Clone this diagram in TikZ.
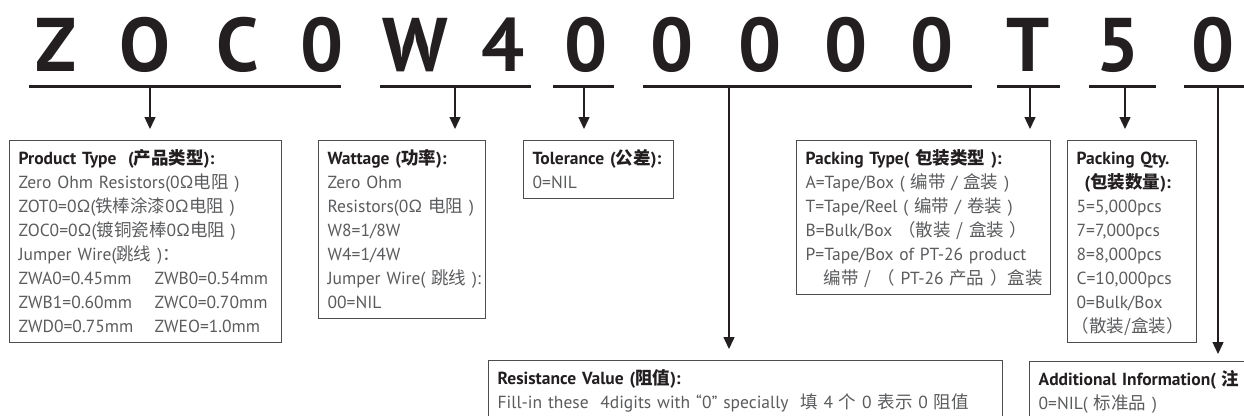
\documentclass[tikz,border=0pt]{standalone}
\usepackage{fontspec}
\setmainfont{PT Sans}
\newfontfamily\cjkfont{Noto Sans CJK SC}
\usetikzlibrary{arrows.meta,positioning}
\definecolor{ink}{HTML}{231F20}
\definecolor{txtgray}{HTML}{5A5B5D}
\definecolor{boxgray}{HTML}{4D4D4F}
\newcommand{\boxhead}[1]{{\bfseries\color{ink}#1}}
\newcommand{\zh}[1]{{\cjkfont #1}}

\begin{document}
\begin{tikzpicture}[x=1pt, y=-1pt, >={Triangle[length=12pt,width=11pt]}]
  \tikzstyle{code}=[font=\fontsize{76}{76}\selectfont\bfseries, text=ink, inner sep=0pt, anchor=base]
  \tikzstyle{uline}=[draw=ink, line width=2.2pt]
  \tikzstyle{stem}=[draw=ink, line width=1.4pt, ->]
  \tikzstyle{infobox}=[draw=boxgray, line width=1.3pt, anchor=north west, align=left, inner xsep=9pt, inner ysep=6pt, text=txtgray, font=\fontsize{17.5}{24}\selectfont, execute at begin node={\rule{0pt}{18pt}}, execute at end node={\rule[-4pt]{0pt}{4pt}}]

  \useasboundingbox (0,0) rectangle (1244,415);
  \clip (0,0) rectangle (1244,415);

  % ------- part number -------
  \foreach \x/\c [count=\i] in {56/Z,145/O,238/C,322/0,415/W,503/4,586/0,672/0,760/0,846/0,932/0,1028/T,1118/5,1213/0}
    \node[code] (c\i) at (\x,71) {\c};

  % underlines of the code groups
  \foreach \a/\b in {29/341,380/531,553/614,643/972,997/1060,1089/1156,1184/1252}
    \draw[uline] (\a,86.5) -- (\b,86.5);

  \coordinate (sProd) at (150,86.5);
  \coordinate (sWatt) at (455,86.5);
  \coordinate (sTol)  at (584,86.5);
  \coordinate (sRes)  at (729,86.5);
  \coordinate (sPack) at (1030,86.5);
  \coordinate (sQty)  at (1125,86.5);
  \coordinate (sAdd)  at (1218,86.5);

  % ------- boxes -------
  \node[infobox, text width=254pt] (prod) at (9,140) {\boxhead{Product Type\ \ (\zh{产品类型}):}\\
    Zero Ohm Resistors(0Ω\zh{电阻} )\\
    ZOT0=0Ω(\zh{铁棒涂漆}0Ω\zh{电阻} )\\
    ZOC0=0Ω(\zh{镀铜瓷棒}0Ω\zh{电阻} )\\
    Jumper Wire(\zh{跳线} )\zh{：}\\
    \makebox[136pt][l]{ZWA0=0.45mm}ZWB0=0.54mm\\
    \makebox[136pt][l]{ZWB1=0.60mm}ZWC0=0.70mm\\
    \makebox[136pt][l]{ZWD0=0.75mm}ZWEO=1.0mm};

  \node[infobox, text width=149pt] (watt) at (318,140) {\boxhead{Wattage (\zh{功率}):}\\
    Zero Ohm\\
    \mbox{Resistors(0Ω \zh{电阻} )}\\
    W8=1/8W\\
    W4=1/4W\\
    \mbox{Jumper Wire( \zh{跳线} ):}\\
    00=NIL};

  \node[infobox, text width=132pt] (tol) at (523,140) {\boxhead{Tolerance (\zh{公差}):}\\
    0=NIL};

  \node[infobox, text width=236pt] (pack) at (796,140) {\boxhead{Packing Type( \zh{包装类型} ):}\\
    A=Tape/Box ( \zh{编带} / \zh{盒装} )\\
    T=Tape/Reel ( \zh{编带} / \zh{卷装} )\\
    \mbox{B=Bulk/Box \zh{（散装 / 盒装 ）}}\\
    \mbox{P=Tape/Box of PT-26 product}\\
    \hspace*{18pt}\mbox{\zh{编带 / （} PT-26 \zh{产品 ）盒装}}};

  \node[infobox, text width=111pt] (qty) at (1067,140) {\boxhead{\mbox{Packing Qty.}}\\
    \hspace*{8pt}\boxhead{(\zh{包装数量}):}\\
    5=5,000pcs\\
    7=7,000pcs\\
    8=8,000pcs\\
    C=10,000pcs\\
    0=Bulk/Box\\
    \hspace*{-5pt}\zh{（散装/盒装）}};

  \node[infobox, text width=496pt] (res) at (488,360) {\boxhead{Resistance Value (\zh{阻值}):}\\
    \mbox{Fill-in these\ \ 4digits with “0” specially\ \ \zh{填} 4 \zh{个} 0 \zh{表示} 0 \zh{阻值}}};

  \node[infobox, text width=300pt] (add) at (1029,361) {\boxhead{\mbox{Additional Information( \zh{注}}}\\
    0=NIL( \zh{标准品} )};

  % ------- arrows -------
  \draw[stem, shorten >=11pt] (sProd) -- (sProd |- prod.north);
  \draw[stem, shorten >=11pt] (sWatt) -- (sWatt |- watt.north);
  \draw[stem, shorten >=11pt] (sTol) -- (sTol |- tol.north);
  \draw[stem, shorten >=11pt] (sRes) -- (sRes |- res.north);
  \draw[stem, shorten >=11pt] (sPack) -- (sPack |- pack.north);
  \draw[stem, shorten >=11pt] (sQty) -- (sQty |- qty.north);
  \draw[stem, shorten >=7pt] (sAdd) -- (sAdd |- add.north);
\end{tikzpicture}
\end{document}
